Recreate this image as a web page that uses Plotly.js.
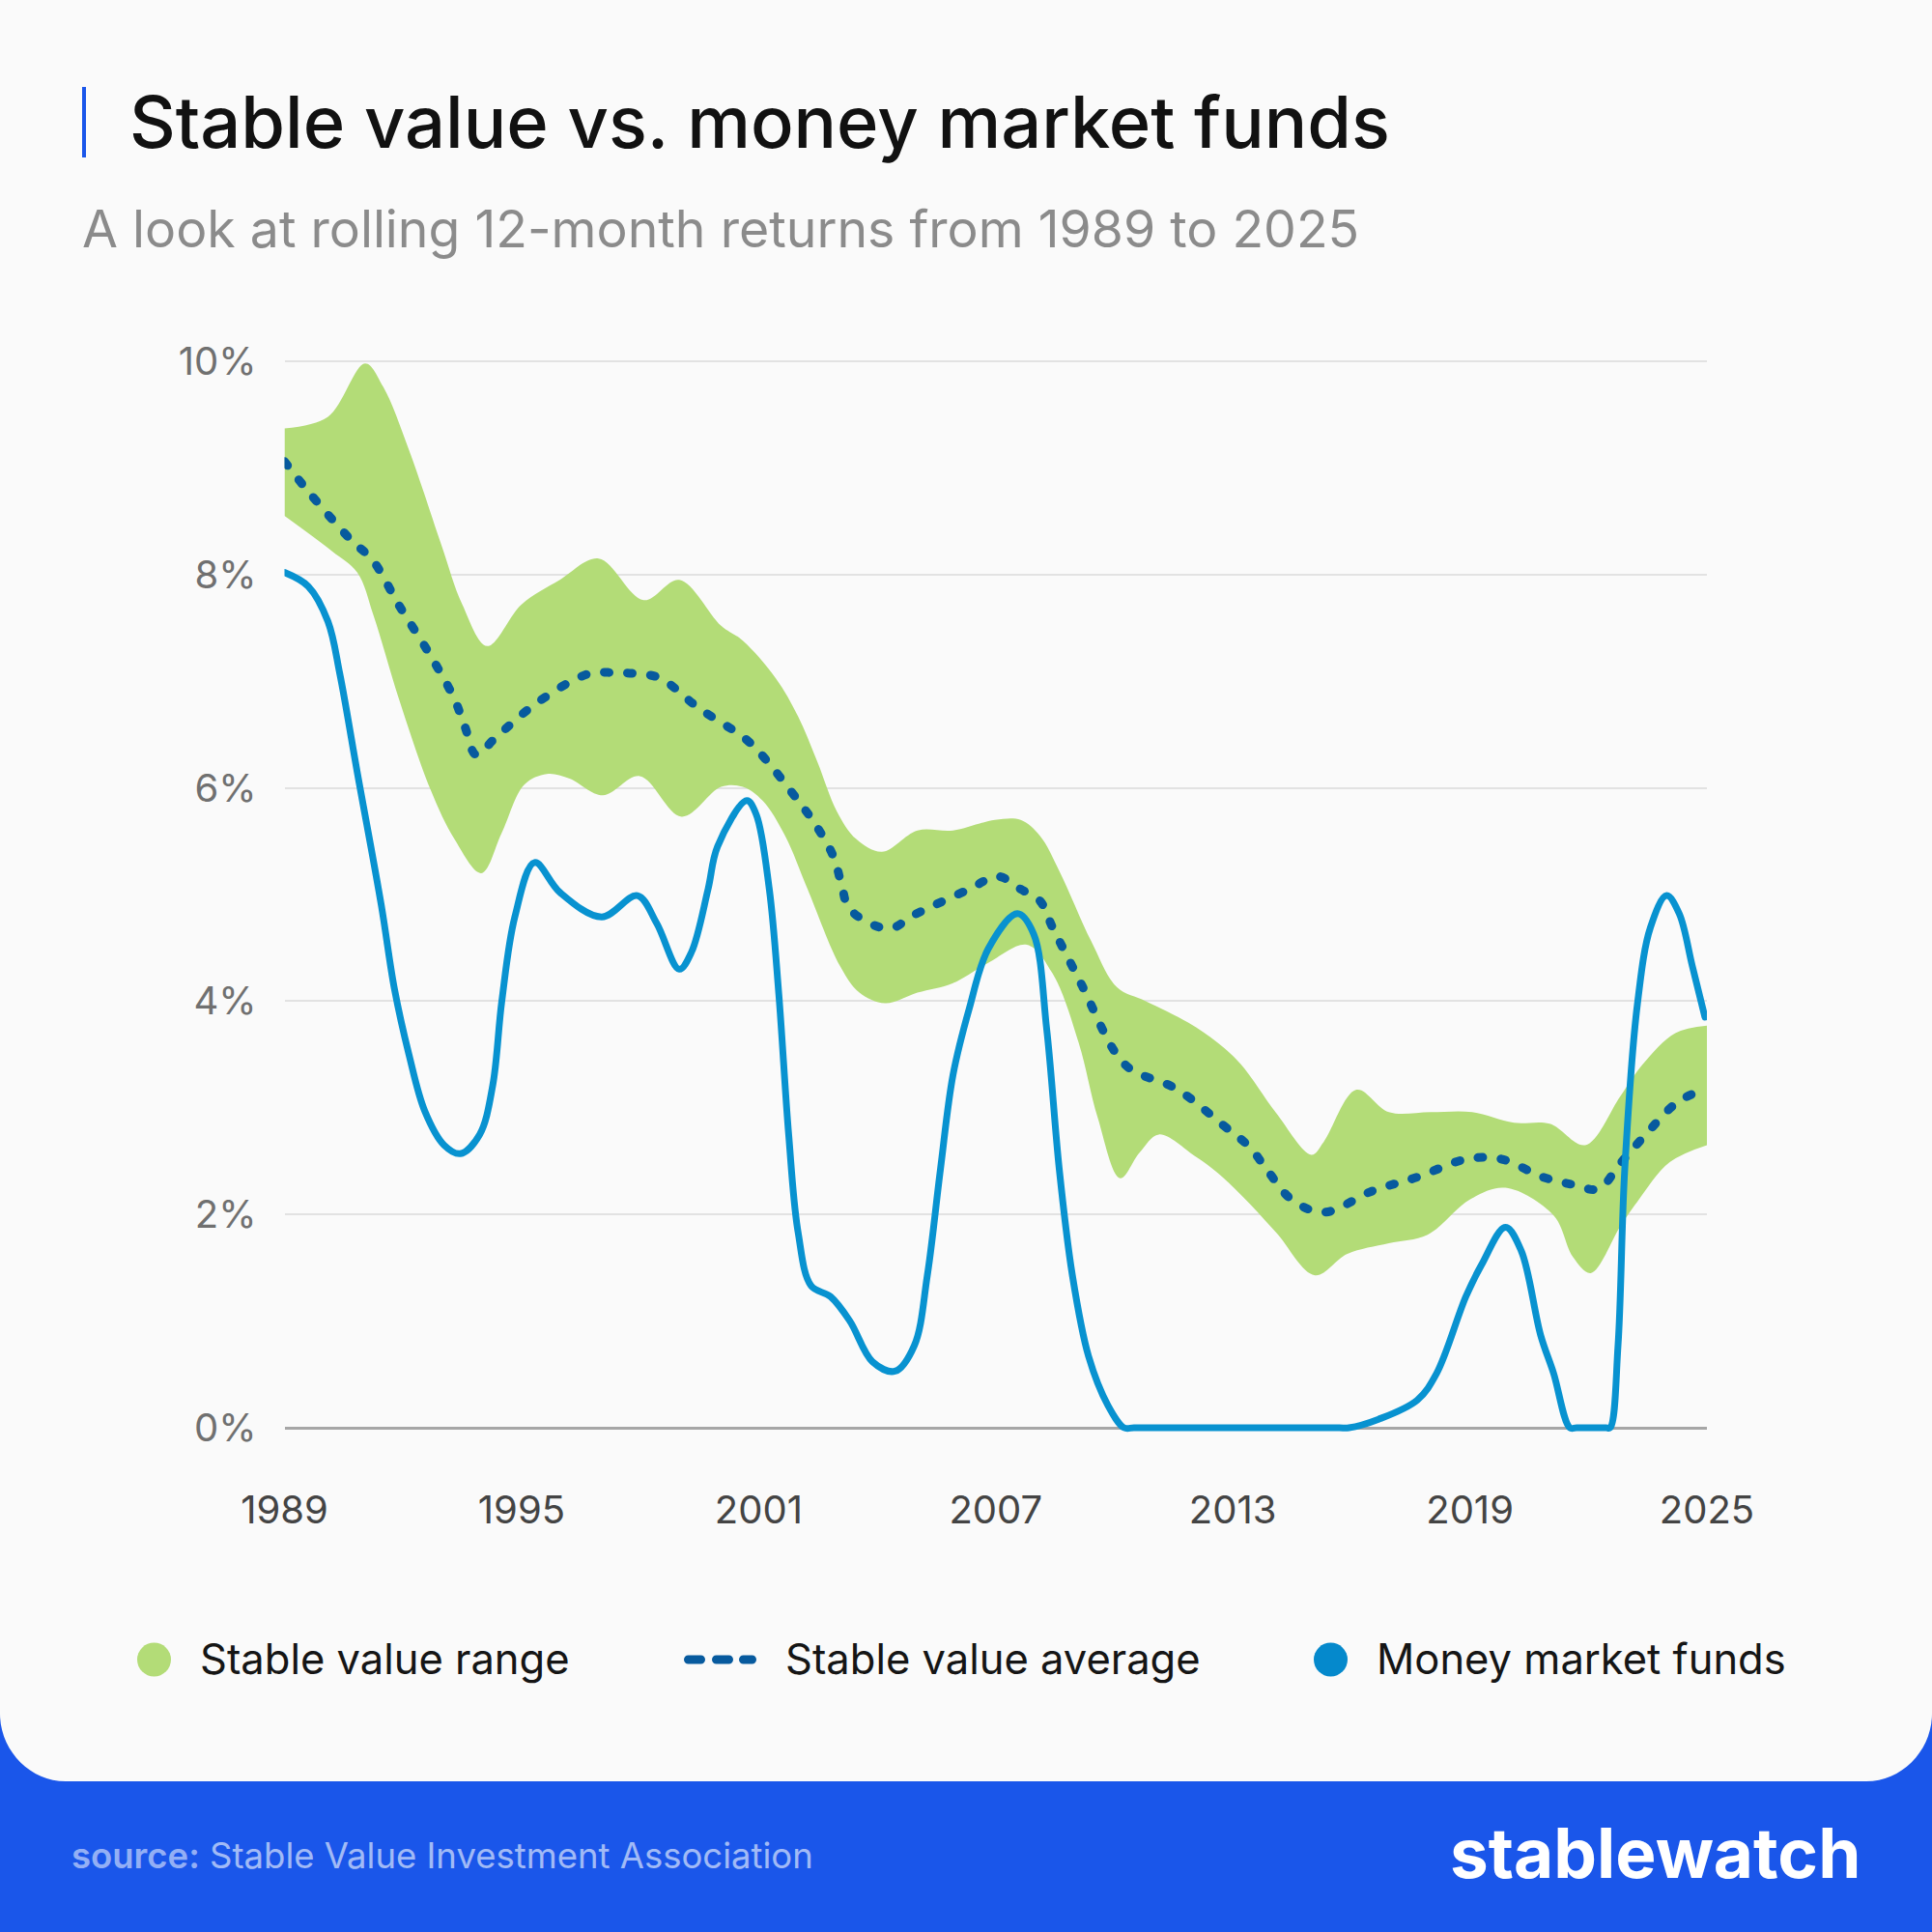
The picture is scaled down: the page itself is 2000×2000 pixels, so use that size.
<!DOCTYPE html>
<html>
<head>
<meta charset="utf-8">
<script src="https://cdn.plot.ly/plotly-3.0.1.min.js"></script>
<style>
  html, body { margin: 0; padding: 0; background: #fafafa; }
  #chart { width: 2000px; height: 2000px; }
</style>
</head>
<body>
<div id="chart"></div>
<script>
// ---- Data ----
const mmYears = [1989.0,1989.6,1990.1,1990.4,1990.84,1991.45,1991.78,1992.15,1992.55,1993.04,1993.45,1993.94,1994.27,1994.5,1994.83,1995.33,1995.97,1997.03,1997.93,1998.42,1998.99,1999.3,1999.72,1999.96,2000.7,2000.94,2001.27,2001.51,2001.76,2002.0,2002.33,2002.82,2003.31,2003.88,2004.45,2004.94,2005.27,2005.6,2005.92,2006.33,2006.81,2007.55,2007.96,2008.29,2008.61,2008.94,2009.35,2009.84,2010.25,2010.5,2011,2012,2013,2014,2015,2015.7,2015.94,2016.69,2017.67,2018.16,2018.9,2019.3,2019.9,2020.3,2020.79,2021.12,2021.53,2021.7,2022.0,2022.45,2022.55,2022.75,2022.92,2023.24,2023.57,2023.98,2024.3,2024.63,2024.95];
const mmValues = [8.02,7.89,7.56,7.07,6.15,4.90,4.12,3.50,2.97,2.65,2.57,2.75,3.21,4.0,4.79,5.30,5.02,4.79,4.99,4.73,4.30,4.46,5.05,5.45,5.88,5.75,5.05,4.07,2.75,1.83,1.33,1.23,1.00,0.62,0.53,0.77,1.43,2.42,3.31,3.93,4.49,4.82,4.63,3.74,2.42,1.43,0.67,0.21,0.0,0,0,0,0,0,0,0,0.0,0.08,0.26,0.51,1.23,1.53,1.88,1.66,0.87,0.51,0.0,0,0,0,0.0,0.77,2.42,3.97,4.69,4.99,4.82,4.33,3.85];

const upperYears = [1989.0,1990.1,1991.04,1991.5,1992.15,1992.97,1993.5,1994.13,1995.0,1995.97,1996.95,1998.09,1998.99,2000.05,2000.6,2001.43,2002.0,2002.49,2002.98,2003.47,2004.12,2005.02,2005.92,2006.98,2007.63,2008.12,2008.61,2009.42,2010.07,2010.8,2011.87,2012.62,2013.2,2014.1,2014.99,2015.3,2016.13,2016.95,2018.0,2019.06,2020.12,2021.02,2021.92,2022.81,2023.38,2024.2,2025.0];
const upperValues = [9.37,9.48,9.98,9.76,9.17,8.28,7.72,7.33,7.72,7.95,8.15,7.76,7.95,7.52,7.38,7.03,6.67,6.24,5.78,5.52,5.40,5.60,5.60,5.70,5.70,5.55,5.22,4.56,4.13,4.0,3.80,3.61,3.41,2.95,2.56,2.68,3.17,2.96,2.96,2.96,2.86,2.85,2.65,3.11,3.41,3.70,3.77];

const lowerYears = [1989.0,1990.2,1990.84,1991.25,1991.9,1992.7,1993.3,1993.98,1994.5,1995.07,1995.64,1996.2,1997.06,1997.99,1999.05,2000.05,2000.6,2001.1,2001.67,2002.24,2003.06,2003.55,2004.2,2005.02,2005.92,2006.81,2007.79,2008.44,2009.1,2009.58,2010.15,2010.64,2011.13,2012.03,2012.62,2013.27,2014.1,2015.08,2015.9,2016.95,2017.93,2019.0,2019.9,2021.12,2021.61,2022.06,2022.81,2023.24,2024.06,2025.0];
const lowerValues = [8.55,8.22,8.02,7.62,6.83,5.98,5.52,5.20,5.58,6.03,6.13,6.09,5.93,6.11,5.73,6.01,6.01,5.88,5.55,5.05,4.33,4.08,3.98,4.08,4.17,4.36,4.53,4.26,3.61,2.91,2.34,2.58,2.75,2.55,2.39,2.16,1.83,1.43,1.63,1.73,1.81,2.14,2.25,1.99,1.60,1.45,1.89,2.12,2.49,2.65];

const avgYears = [1989.0,1989.6,1990.67,1991.24,1991.9,1992.63,1993.28,1993.57,1993.85,1994.34,1995.4,1996.7,1997.36,1997.93,1998.5,1999.48,2000.7,2001.17,2002.0,2002.45,2002.9,2003.1,2003.31,2004.29,2004.94,2006.33,2007.06,2007.63,2008.12,2008.44,2009.18,2009.99,2010.42,2011.56,2012.78,2013.43,2013.92,2014.49,2015.3,2016.53,2017.67,2018.93,2019.79,2020.85,2021.61,2022.26,2022.79,2023.38,2024.28,2025.0];
const avgValues = [9.06,8.78,8.33,8.13,7.71,7.28,6.85,6.57,6.31,6.47,6.80,7.07,7.08,7.07,7.03,6.75,6.45,6.27,5.88,5.65,5.35,5.09,4.86,4.68,4.81,5.05,5.17,5.05,4.94,4.69,4.15,3.54,3.36,3.18,2.83,2.63,2.39,2.14,2.02,2.22,2.35,2.52,2.52,2.35,2.28,2.24,2.47,2.72,3.06,3.18];

const xTickVals = [1989,1995,2001,2007,2013,2019,2025];
const xTickText = ['1989','1995','2001','2007','2013','2019','2025'];
const yTickVals = [0,2,4,6,8,10];
const yTickText = ['0%','2%','4%','6%','8%','10%'];

const seriesNames = ['Stable value range','Stable value average','Money market funds'];

// ---- Helpers: page pixel -> paper coordinates (margins are 0) ----
const W = 2000, H = 2000;
const px = x => x / W;
const py = y => 1 - y / H;
function P(x, y) { return px(x).toFixed(5) + ',' + py(y).toFixed(5); }
function pill(x0, x1, yc, h) {
  const r = h / 2, k = 0.552 * r;
  return 'M' + P(x0 + r, yc - r) + ' L' + P(x1 - r, yc - r) +
    ' C' + P(x1 - r + k, yc - r) + ' ' + P(x1, yc - k) + ' ' + P(x1, yc) +
    ' C' + P(x1, yc + k) + ' ' + P(x1 - r + k, yc + r) + ' ' + P(x1 - r, yc + r) +
    ' L' + P(x0 + r, yc + r) +
    ' C' + P(x0 + r - k, yc + r) + ' ' + P(x0, yc + k) + ' ' + P(x0, yc) +
    ' C' + P(x0, yc - k) + ' ' + P(x0 + r - k, yc - r) + ' ' + P(x0 + r, yc - r) + ' Z';
}

const FONT = 'Inter, "Noto Sans", "DejaVu Sans", sans-serif';
const GREEN = '#b3dc77';
const DARKBLUE = '#075a9e';
const LINEBLUE = '#0892d0';
const FOOTBLUE = '#1a56ea';

const traces = [
  { x: lowerYears, y: lowerValues, type: 'scatter', mode: 'lines',
    line: { width: 0, shape: 'spline', smoothing: 1, color: GREEN },
    hoverinfo: 'skip', showlegend: false, name: seriesNames[0] + ' (low)' },
  { x: upperYears, y: upperValues, type: 'scatter', mode: 'lines',
    line: { width: 0, shape: 'spline', smoothing: 1, color: GREEN },
    fill: 'tonexty', fillcolor: GREEN, hoverinfo: 'skip', showlegend: false, name: seriesNames[0] },
  { x: avgYears, y: avgValues, type: 'scatter', mode: 'lines',
    line: { width: 9, shape: 'spline', smoothing: 1, color: DARKBLUE, dash: '5px,19px' },
    hoverinfo: 'skip', showlegend: false, name: seriesNames[1] },
  { x: mmYears, y: mmValues, type: 'scatter', mode: 'lines',
    line: { width: 7, shape: 'spline', smoothing: 1, color: LINEBLUE },
    hoverinfo: 'skip', showlegend: false, name: seriesNames[2] }
];

// Plot area: 1989 at x=294.5, 2025 at x=1767; 0% at y=1478, 10% at y=374
const yMin = -0.3, yMax = 10.5, pxPerPct = 110.4;
const yBottom = 1478 + (-yMin) * pxPerPct;
const yTop = 1478 - yMax * pxPerPct;

const shapes = [
  // footer blue with rounded card corners
  { type: 'path', xref: 'paper', yref: 'paper', layer: 'below', line: { width: 0 }, fillcolor: FOOTBLUE,
    path: 'M' + P(0, 1774) + ' L' + P(0, 2000) + ' L' + P(2000, 2000) + ' L' + P(2000, 1774) +
      ' C' + P(2000, 1811.5) + ' ' + P(1969.5, 1844) + ' ' + P(1932, 1844) +
      ' L' + P(68, 1844) +
      ' C' + P(30.5, 1844) + ' ' + P(0, 1811.5) + ' ' + P(0, 1774) + ' Z' },
  // title accent bar
  { type: 'rect', xref: 'paper', yref: 'paper', x0: px(85), x1: px(89), y0: py(163), y1: py(90),
    fillcolor: FOOTBLUE, line: { width: 0 } },
  // legend: green dot
  { type: 'circle', xref: 'paper', yref: 'paper', x0: px(142), x1: px(177), y0: py(1735.5), y1: py(1700.5),
    fillcolor: GREEN, line: { width: 0 } },
  // legend: dashes
  { type: 'path', xref: 'paper', yref: 'paper', path: pill(708, 730, 1718, 9), fillcolor: DARKBLUE, line: { width: 0 } },
  { type: 'path', xref: 'paper', yref: 'paper', path: pill(737, 759, 1718, 9), fillcolor: DARKBLUE, line: { width: 0 } },
  { type: 'path', xref: 'paper', yref: 'paper', path: pill(765, 783, 1718, 9), fillcolor: DARKBLUE, line: { width: 0 } },
  // legend: blue dot
  { type: 'circle', xref: 'paper', yref: 'paper', x0: px(1360), x1: px(1395), y0: py(1735.5), y1: py(1700.5),
    fillcolor: '#0589cc', line: { width: 0 } }
];

const annotations = [
  { text: 'A look at rolling 12-month returns from 1989 to 2025', xref: 'paper', yref: 'paper',
    x: px(83), y: py(236), xanchor: 'left', yanchor: 'middle', showarrow: false,
    font: { family: FONT, size: 53.6, color: '#8b8b8b' } },
  { text: seriesNames[0], xref: 'paper', yref: 'paper', x: px(205), y: py(1717), xanchor: 'left', yanchor: 'middle',
    showarrow: false, font: { family: FONT, size: 43.5, color: '#151515' } },
  { text: seriesNames[1], xref: 'paper', yref: 'paper', x: px(811), y: py(1717), xanchor: 'left', yanchor: 'middle',
    showarrow: false, font: { family: FONT, size: 43.5, color: '#151515' } },
  { text: seriesNames[2], xref: 'paper', yref: 'paper', x: px(1423), y: py(1717), xanchor: 'left', yanchor: 'middle',
    showarrow: false, font: { family: FONT, size: 43.5, color: '#151515' } },
  { text: 'source:', xref: 'paper', yref: 'paper', x: px(72), y: py(1921), xanchor: 'left', yanchor: 'middle',
    showarrow: false, font: { family: FONT, size: 36.5, weight: 600, color: 'rgba(255,255,255,0.55)' } },
  { text: 'Stable Value Investment Association', xref: 'paper', yref: 'paper', x: px(215), y: py(1921), xanchor: 'left', yanchor: 'middle',
    showarrow: false, font: { family: FONT, size: 36.5, color: 'rgba(255,255,255,0.6)' } },
  { text: 'stablewatch', xref: 'paper', yref: 'paper', x: px(1928), y: py(1918), xanchor: 'right', yanchor: 'middle',
    showarrow: false, font: { family: FONT, size: 71, weight: 700, color: '#ffffff' } }
];

const layout = {
  width: W, height: H,
  margin: { l: 0, r: 0, t: 0, b: 0, pad: 0 },
  paper_bgcolor: '#fafafa',
  plot_bgcolor: 'rgba(0,0,0,0)',
  showlegend: false,
  hovermode: false,
  title: { text: 'Stable value vs. money market funds', x: px(134), xref: 'paper', xanchor: 'left',
    y: py(127), yref: 'paper', yanchor: 'middle',
    font: { family: FONT, size: 74, weight: 500, color: '#111111' } },
  xaxis: {
    domain: [px(294.5), px(1767)], range: [1989, 2025],
    tickmode: 'array', tickvals: xTickVals, ticktext: xTickText,
    showgrid: false, zeroline: false, showline: false, ticks: '',
    ticklabelstandoff: 25,
    tickfont: { family: FONT, size: 40, color: '#444444' }, fixedrange: true
  },
  yaxis: {
    domain: [py(yBottom), py(yTop)], range: [yMin, yMax],
    tickmode: 'array', tickvals: yTickVals, ticktext: yTickText,
    showgrid: true, gridcolor: '#e2e2e2', gridwidth: 2,
    zeroline: true, zerolinecolor: '#a6a6a6', zerolinewidth: 3,
    showline: false, ticks: '', ticklabelstandoff: 28,
    tickfont: { family: FONT, size: 40, color: '#707070' }, fixedrange: true
  },
  shapes: shapes,
  annotations: annotations
};

Plotly.newPlot('chart', traces, layout, { staticPlot: true, displayModeBar: false }).then(function () {
  document.querySelectorAll('.scatterlayer path.js-line').forEach(function (p) {
    p.style.strokeLinecap = 'round';
    p.style.strokeLinejoin = 'round';
  });
});
</script>
</body>
</html>
